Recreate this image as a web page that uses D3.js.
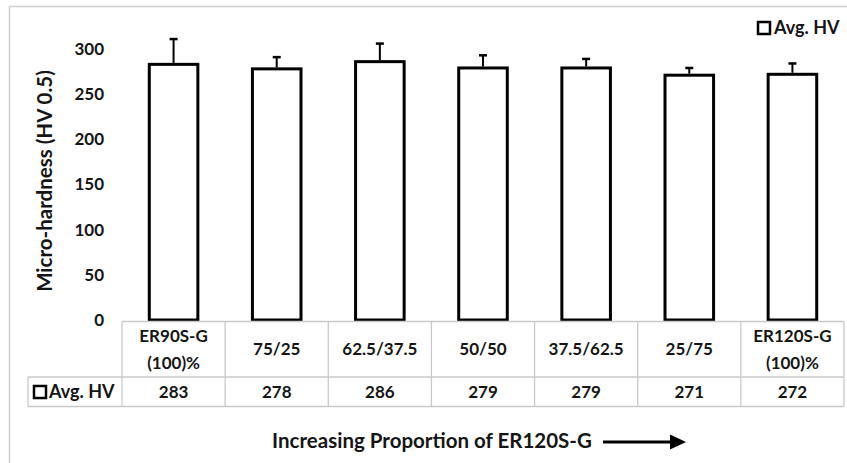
<!DOCTYPE html>
<html>
<head>
<meta charset="utf-8">
<script src="https://cdn.jsdelivr.net/npm/d3@7"></script>
<style>
  html, body { margin: 0; padding: 0; background: #fff; }
  svg { display: block; font-family: Lato, "Open Sans", sans-serif; font-weight: 700; }
</style>
</head>
<body>
<svg id="chart" width="847" height="463"></svg>
<script>
// Filler mixtures (ER90S-G / ER120S-G) and their average micro-hardness
const categories = [
  ["ER90S-G", "(100)%"],
  ["75/25"],
  ["62.5/37.5"],
  ["50/50"],
  ["37.5/62.5"],
  ["25/75"],
  ["ER120S-G", "(100)%"]
];
const avgHV = [283, 278, 286, 279, 279, 271, 272];
const errHV = [28, 13, 20, 14, 10, 8, 12];
const yTicks = [0, 50, 100, 150, 200, 250, 300];
const seriesName = "Avg. HV";
const yTitle = "Micro-hardness (HV 0.5)";
const xTitle = "Increasing Proportion of ER120S-G";

const svg = d3.select("#chart");
const gridColor = "#c9c9c9";
const tickSize = 17, tableSize = 17, legendSize = 18, titleSize = 20.5;
const ink = "#151515";

// outer frame
svg.append("rect")
  .attr("x", 9.5).attr("y", 6.5)
  .attr("width", 900).attr("height", 500)
  .attr("fill", "none").attr("stroke", "#cfcfcf").attr("stroke-width", 1.5);

const x = d3.scaleBand()
  .domain(d3.range(categories.length))
  .range([122, 844])
  .paddingInner(0.5)
  .paddingOuter(0.25);

const y = d3.scaleLinear().domain([0, 300]).range([320, 49]);

// y axis: labels only
const yAxis = d3.axisLeft(y).tickValues(yTicks).tickSize(0).tickPadding(0);
const gy = svg.append("g").attr("transform", "translate(104,0)").call(yAxis);
gy.select(".domain").remove();
gy.selectAll("text")
  .attr("font-size", tickSize).attr("font-family", "Lato, sans-serif")
  .attr("font-weight", 700).attr("fill", ink);

// bars
svg.append("g").selectAll("rect")
  .data(avgHV)
  .join("rect")
  .attr("x", (d, i) => x(i) + 1.5)
  .attr("y", d => y(d))
  .attr("width", x.bandwidth() - 3)
  .attr("height", d => y(0) - y(d))
  .attr("fill", "#fff")
  .attr("stroke", "#000")
  .attr("stroke-width", 3);

// error bars (upper only)
const eb = svg.append("g").attr("stroke", "#000");
avgHV.forEach((v, i) => {
  const cx = x(i) + x.bandwidth() / 2;
  eb.append("line")
    .attr("x1", cx).attr("x2", cx)
    .attr("y1", y(v) - 1.5).attr("y2", y(v + errHV[i]))
    .attr("stroke-width", 2);
  eb.append("line")
    .attr("x1", cx - 4).attr("x2", cx + 4)
    .attr("y1", y(v + errHV[i])).attr("y2", y(v + errHV[i]))
    .attr("stroke-width", 2.5);
});

// data table below the plot
const step = x.step();
const colLeft = i => 122 + i * step;
const tTop = 321.5, tMid = 377, tBot = 406.5, legLeft = 28;
const tbl = svg.append("g").attr("stroke", gridColor).attr("stroke-width", 1.3);
tbl.append("line").attr("x1", 122).attr("x2", 844).attr("y1", tTop).attr("y2", tTop);
tbl.append("line").attr("x1", legLeft).attr("x2", 844).attr("y1", tMid).attr("y2", tMid);
tbl.append("line").attr("x1", legLeft).attr("x2", 844).attr("y1", tBot).attr("y2", tBot);
tbl.append("line").attr("x1", legLeft).attr("x2", legLeft).attr("y1", tMid).attr("y2", tBot);
d3.range(categories.length + 1).forEach(i => {
  tbl.append("line").attr("x1", colLeft(i)).attr("x2", colLeft(i)).attr("y1", tTop).attr("y2", tBot);
});

const txt = svg.append("g")
  .attr("font-size", tableSize).attr("fill", ink).attr("text-anchor", "middle");
categories.forEach((lines, i) => {
  const cx = colLeft(i) + step / 2;
  const mid = (tTop + tMid) / 2;
  const lh = 27;
  lines.forEach((s, k) => {
    txt.append("text")
      .attr("x", cx)
      .attr("y", mid + (k - (lines.length - 1) / 2) * lh)
      .attr("dy", "0.35em")
      .text(s);
  });
  txt.append("text")
    .attr("x", cx).attr("y", (tMid + tBot) / 2).attr("dy", "0.35em")
    .text(avgHV[i]);
});

// legend key inside the table
svg.append("rect").attr("x", 34).attr("y", 386).attr("width", 12).attr("height", 12)
  .attr("fill", "#fff").attr("stroke", "#000").attr("stroke-width", 2.5);
svg.append("text").attr("x", 49).attr("y", (tMid + tBot) / 2).attr("dy", "0.35em")
  .attr("font-size", legendSize).attr("fill", ink).text(seriesName);

// top-right legend
svg.append("rect").attr("x", 758).attr("y", 22).attr("width", 12).attr("height", 12)
  .attr("fill", "#fff").attr("stroke", "#000").attr("stroke-width", 2.5);
svg.append("text").attr("x", 774).attr("y", 28).attr("dy", "0.35em")
  .attr("font-size", legendSize).attr("fill", ink).text(seriesName);

// axis titles
svg.append("text")
  .attr("transform", "translate(45,181) rotate(-90)")
  .attr("text-anchor", "middle").attr("dy", "0.35em")
  .attr("font-size", titleSize).attr("fill", ink).text(yTitle);

svg.append("text")
  .attr("x", 432).attr("y", 441).attr("dy", "0.35em")
  .attr("text-anchor", "middle")
  .attr("font-size", titleSize).attr("fill", ink).text(xTitle);

// arrow next to the x title
svg.append("line").attr("x1", 603).attr("x2", 672).attr("y1", 442).attr("y2", 442)
  .attr("stroke", "#000").attr("stroke-width", 3);
svg.append("path")
  .attr("d", d3.line()([[670, 434.5], [686, 442], [670, 449.5]]) + "Z")
  .attr("fill", "#000");
</script>
</body>
</html>
